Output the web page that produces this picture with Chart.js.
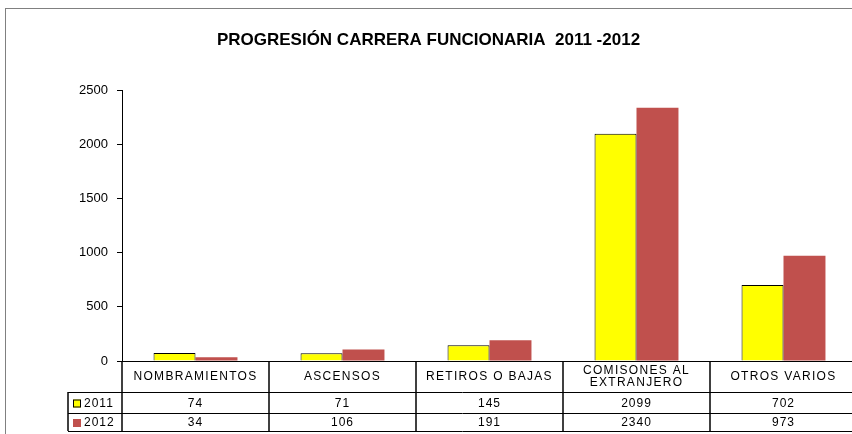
<!DOCTYPE html>
<html>
<head>
<meta charset="utf-8">
<script src="https://cdn.jsdelivr.net/npm/chart.js@4"></script>
<style>
  body { margin: 0; overflow: hidden; background: #fff; }
</style>
</head>
<body>
<canvas id="bar-chart" width="870" height="434"></canvas>
<script>
// categorias y valores
var categorias = ["NOMBRAMIENTOS", "ASCENSOS", "RETIROS O BAJAS", ["COMISONES AL", "EXTRANJERO"], "OTROS VARIOS"];
var datos2011 = [74, 71, 145, 2099, 702];
var datos2012 = [34, 106, 191, 2340, 973];
var series = ["2011", "2012"];
var colores = ["#FFFF00", "#C0504D"];

// tabla de datos debajo del eje x + marco exterior
var tablaPlugin = {
    id: 'tabla',
    afterDraw: function(chart) {
        var ctx = chart.ctx;
        var x = chart.scales.x;
        var area = chart.chartArea;
        var n = categorias.length;
        var ancho = (area.right - area.left) / n;
        var y0 = area.bottom;
        var y1 = y0 + 31, y2 = y1 + 21, y3 = y2 + 18;
        var izq = 68;
        ctx.save();
        // marco
        ctx.strokeStyle = '#808080';
        ctx.lineWidth = 1;
        ctx.strokeRect(5.5, 8.5, 860, 440);

        ctx.strokeStyle = '#000';
        ctx.lineWidth = 1.5;
        for (var i = 0; i <= n; i++) {
            var bx = Math.round(area.left + i * ancho);
            ctx.beginPath();
            ctx.moveTo(bx, y0);
            ctx.lineTo(bx, y3);
            ctx.stroke();
        }
        ctx.beginPath();
        ctx.moveTo(izq, y1);
        ctx.lineTo(izq, y3);
        ctx.stroke();
        ctx.lineWidth = 1;
        [y1, y2, y3].forEach(function(yy) {
            ctx.beginPath();
            ctx.moveTo(izq, yy + 0.5);
            ctx.lineTo(area.right, yy + 0.5);
            ctx.stroke();
        });

        ctx.fillStyle = '#000';
        ctx.textAlign = 'center';
        ctx.textBaseline = 'middle';
        ctx.font = '12px Arial, "Liberation Sans", sans-serif';
        ctx.letterSpacing = '1.3px';
        categorias.forEach(function(c, i) {
            var cx = x.getPixelForValue(i);
            if (Array.isArray(c)) {
                ctx.fillText(c[0], cx, y0 + 10);
                ctx.fillText(c[1], cx, y0 + 22);
            } else {
                ctx.fillText(c, cx, y0 + 16);
            }
        });
        ctx.letterSpacing = '1px';
        [datos2011, datos2012].forEach(function(d, s) {
            var cy = s === 0 ? (y1 + y2) / 2 + 1 : (y2 + y3) / 2 + 1;
            d.forEach(function(v, i) {
                ctx.fillText(String(v), x.getPixelForValue(i), cy);
            });
            // leyenda
            ctx.fillStyle = colores[s];
            ctx.fillRect(73, cy - 4, 8, 8);
            if (s === 0) {
                ctx.lineWidth = 1;
                ctx.strokeStyle = '#000';
                ctx.strokeRect(73.5, cy - 3.5, 7, 7);
            }
            ctx.fillStyle = '#000';
            ctx.textAlign = 'left';
            ctx.fillText(series[s], 84, cy);
            ctx.textAlign = 'center';
        });
        ctx.restore();
    }
};

new Chart(document.getElementById("bar-chart"), {
    type: 'bar',
    data: {
        labels: categorias,
        datasets: [{
            label: series[0],
            data: datos2011,
            backgroundColor: colores[0],
            borderColor: "#000",
            borderWidth: 1,
            categoryPercentage: 0.571,
            barPercentage: 1
        }, {
            label: series[1],
            data: datos2012,
            backgroundColor: colores[1],
            borderWidth: 0,
            categoryPercentage: 0.571,
            barPercentage: 1
        }]
    },
    plugins: [tablaPlugin],
    options: {
        responsive: false,
        animation: false,
        layout: {
            padding: { left: 0, right: 13, top: 0, bottom: 0 }
        },
        plugins: {
            legend: { display: false },
            tooltip: { enabled: false },
            title: {
                display: true,
                text: 'PROGRESIÓN CARRERA FUNCIONARIA  2011 -2012',
                color: '#000',
                font: { family: '"Liberation Sans Narrow", "Arial Narrow", sans-serif', size: 17, weight: 'bold' },
                padding: { top: 30, bottom: 40 }
            }
        },
        scales: {
            x: {
                grid: { display: false },
                border: { display: true, color: '#000', width: 1 },
                ticks: { display: false },
                afterFit: function(scale) { scale.height = 73; }
            },
            y: {
                min: 0,
                max: 2500,
                ticks: {
                    stepSize: 500,
                    color: '#000',
                    padding: 9,
                    font: { family: 'Arial, "Liberation Sans", sans-serif', size: 13 },
                    callback: function(v) { return String(v); }
                },
                grid: { drawOnChartArea: false, drawTicks: true, tickLength: 5, color: '#000' },
                border: { display: true, color: '#000', width: 1 },
                afterFit: function(scale) { scale.width = 122; }
            }
        }
    }
});
</script>
</body>
</html>
